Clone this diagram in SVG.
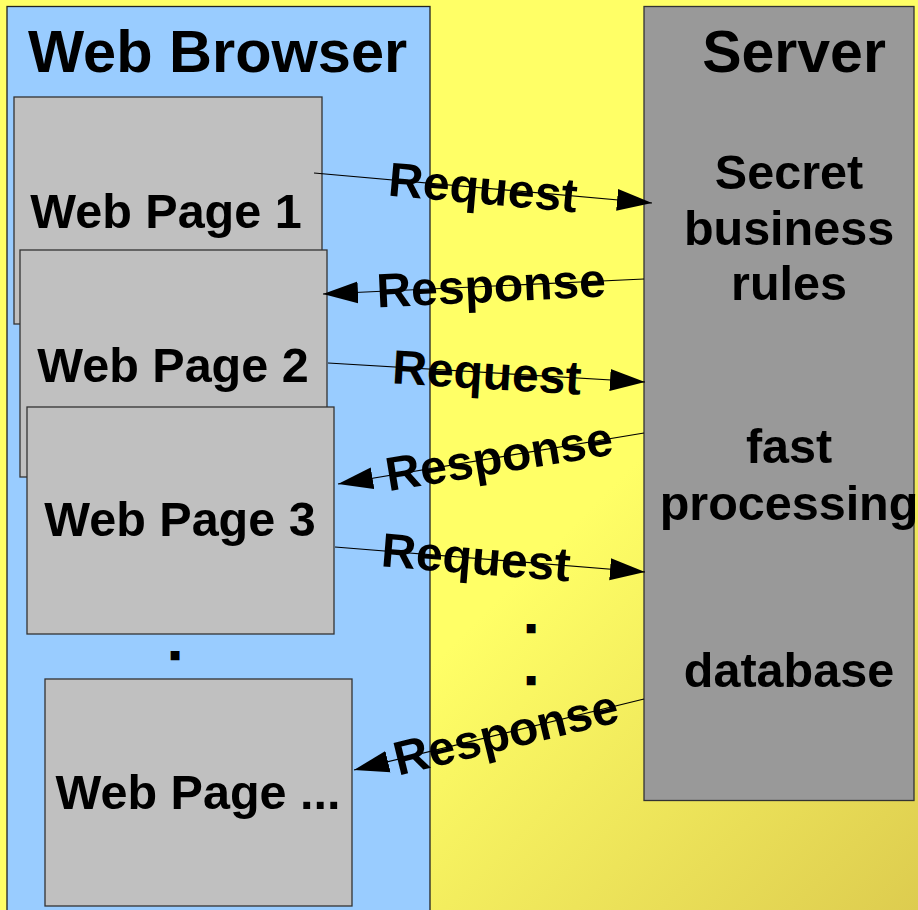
<svg xmlns="http://www.w3.org/2000/svg" width="918" height="910" viewBox="0 0 918 910">
<defs>
<linearGradient id="bg" x1="0" y1="0" x2="1" y2="1">
<stop offset="0" stop-color="#ffff66"/>
<stop offset="0.6" stop-color="#ffff66"/>
<stop offset="1" stop-color="#ddcc4f"/>
</linearGradient>
<marker id="ah" markerUnits="userSpaceOnUse" markerWidth="36" markerHeight="24" viewBox="0 0 36 24" refX="35" refY="12" orient="auto">
<path d="M0,1 L35,12 L0,23 Z" fill="#000"/>
</marker>
<style>
text{font-family:"Liberation Sans",Arial,sans-serif;font-weight:bold;fill:#000}
.page{fill:#c0c0c0;stroke:#333;stroke-width:1.3}
.pt{font-size:48.5px;text-anchor:middle}
.st{font-size:48.5px;text-anchor:middle}
.lbl{font-size:48px;text-anchor:middle}
.dot{font-size:44px;text-anchor:middle;stroke:#000;stroke-width:2.6}
.conn{stroke:#000;stroke-width:1.2;fill:none;marker-end:url(#ah)}
</style>
</defs>
<rect x="0" y="0" width="918" height="910" fill="url(#bg)"/>
<g id="browser">
<rect x="7" y="6.5" width="423" height="915" fill="#99ccff" stroke="#222" stroke-width="1.3"/>
<text x="28" y="72" style="font-size:59.5px">Web Browser</text>
</g>
<g id="server">
<rect x="644" y="6.5" width="270" height="794" fill="#999999" stroke="#333" stroke-width="1.3"/>
<text class="st" x="794" y="72" style="font-size:59px">Server</text>
<text class="st" x="789" y="189">Secret</text>
<text class="st" x="789" y="245">business</text>
<text class="st" x="789" y="300">rules</text>
<text class="st" x="789" y="463">fast</text>
<text class="st" x="789" y="520">processing</text>
<text class="st" x="789" y="687">database</text>
</g>
<g id="page1">
<rect class="page" x="14" y="97" width="308" height="227"/>
<text class="pt" x="166" y="228">Web Page 1</text>
</g>
<g id="page2">
<rect class="page" x="20" y="250" width="307" height="227"/>
<text class="pt" x="173" y="382">Web Page 2</text>
</g>
<g id="page3">
<rect class="page" x="27" y="407" width="307" height="227"/>
<text class="pt" x="180" y="536">Web Page 3</text>
</g>
<g id="pageN">
<rect class="page" x="45" y="679" width="307" height="227"/>
<text class="pt" x="198" y="809">Web Page ...</text>
</g>
<g id="dots">
<text class="dot" x="175" y="659">.</text>
<text class="dot" x="531" y="632">.</text>
<text class="dot" x="531" y="684">.</text>
</g>
<g id="connectors">
<line class="conn" x1="314" y1="173" x2="652" y2="203"/>
<line class="conn" x1="644" y1="279" x2="323" y2="294"/>
<line class="conn" x1="328" y1="363" x2="645" y2="382"/>
<line class="conn" x1="644" y1="433" x2="338" y2="484"/>
<line class="conn" x1="335" y1="547" x2="645" y2="572"/>
<line class="conn" x1="644" y1="699" x2="354" y2="770"/>
<text class="lbl" transform="translate(483,188) rotate(5.1)" y="16">Request</text>
<text class="lbl" transform="translate(491,286) rotate(-2.7)" y="16">Response</text>
<text class="lbl" transform="translate(487,373) rotate(3.4)" y="16">Request</text>
<text class="lbl" transform="translate(499,457) rotate(-9.3)" y="16">Response</text>
<text class="lbl" transform="translate(476,558) rotate(4.6)" y="16">Request</text>
<text class="lbl" transform="translate(506,733) rotate(-13.7)" y="16">Response</text>
</g>
</svg>
